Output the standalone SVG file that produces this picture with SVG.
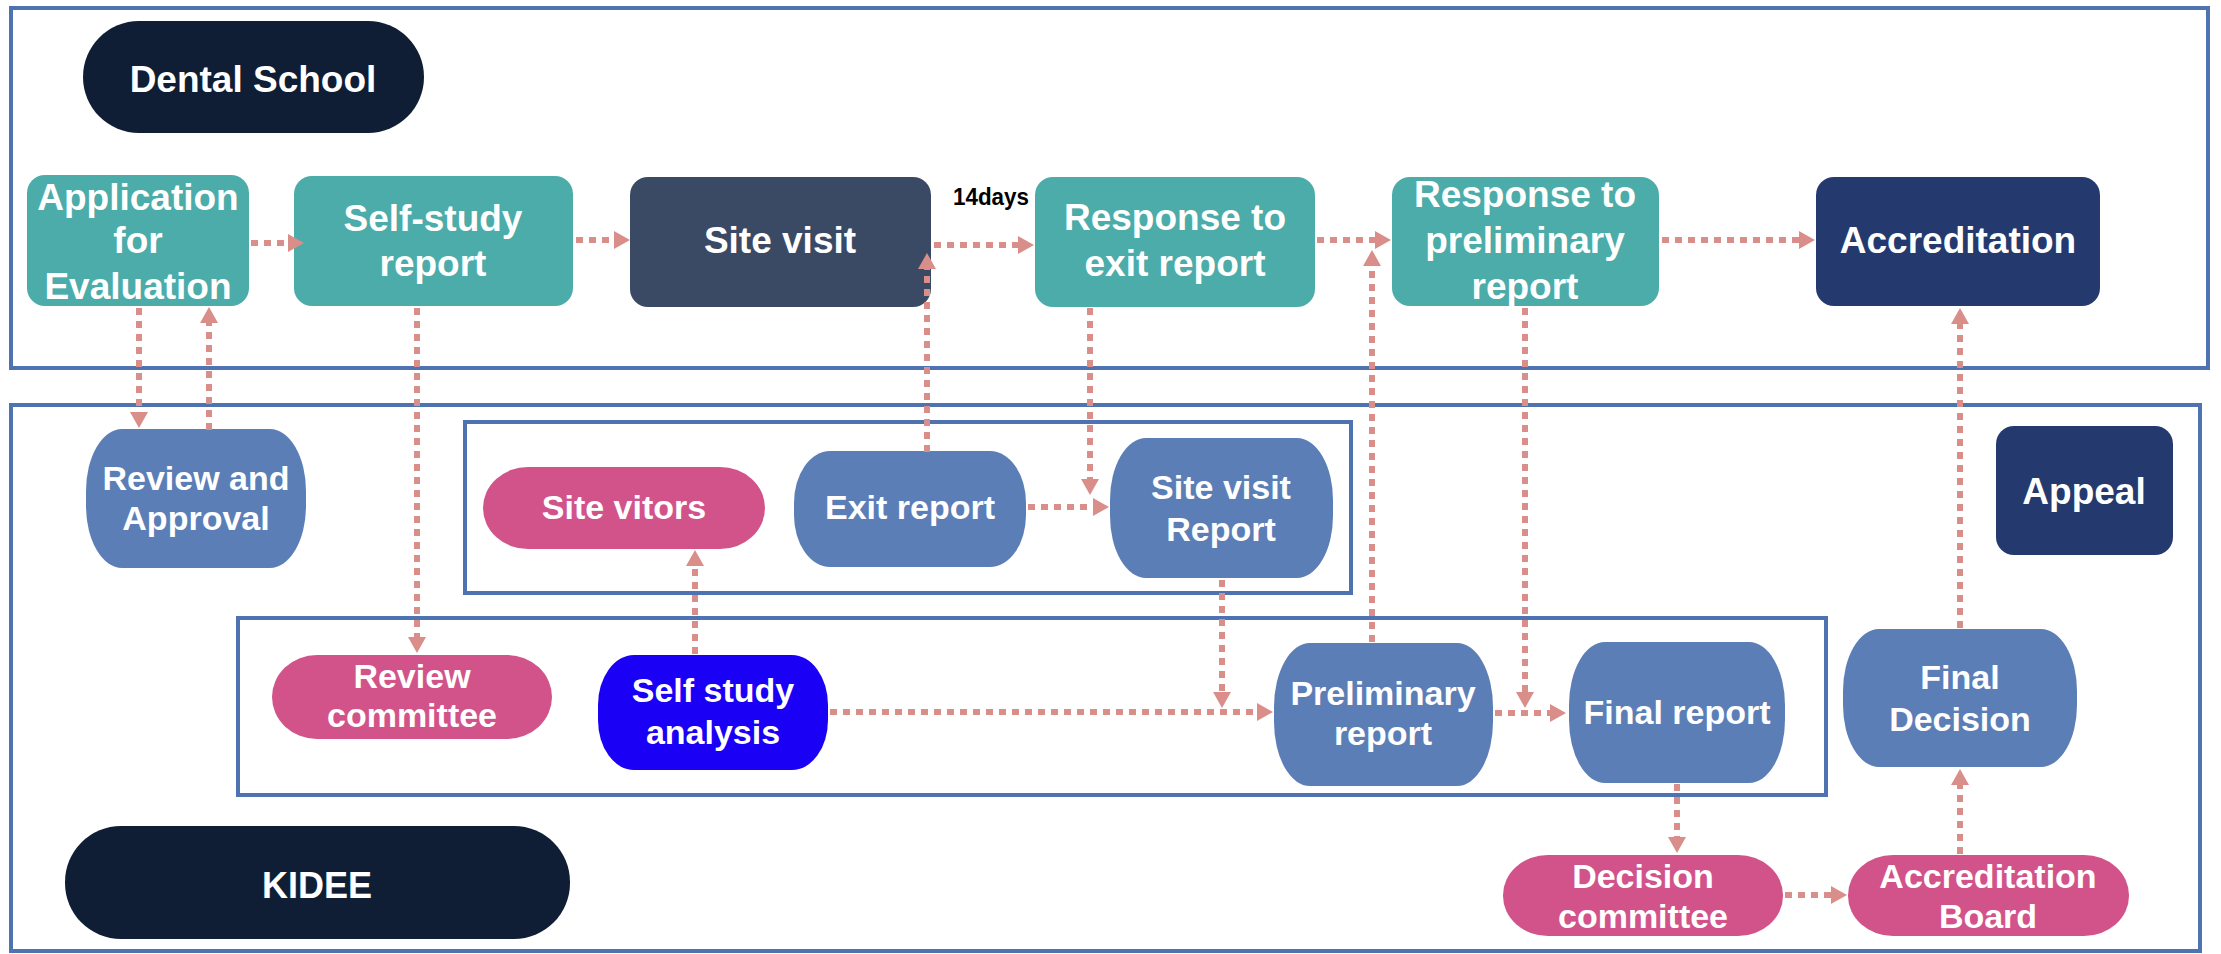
<svg xmlns="http://www.w3.org/2000/svg" width="2221" height="954" viewBox="0 0 2221 954">
<defs>
<style>
.frame{fill:none;stroke:#4f73b0;stroke-width:4}
.t{font-family:"Liberation Sans",Arial,sans-serif;font-weight:bold;fill:#ffffff;text-anchor:middle}
.r1{font-size:37px}
.r2{font-size:34px}
.teal{fill:#4bacaa}
.slate{fill:#3b4a64}
.navy{fill:#243a6f}
.dark{fill:#0f1e34}
.steel{fill:#5b7eb7}
.pink{fill:#d2538a}
.blue{fill:#1a00f5}
.c{fill:none;stroke:#d98e8a;stroke-width:6;stroke-dasharray:7 6;marker-end:url(#ah)}
</style>
<marker id="ah" markerUnits="userSpaceOnUse" markerWidth="18" markerHeight="20" refX="2" refY="9" orient="auto">
<path d="M0,0 L16,9 L0,18 Z" fill="#d98e8a"/>
</marker>
</defs>
<rect width="2221" height="954" fill="#ffffff"/>
<g id="frames">
<rect class="frame" x="11" y="8" width="2197" height="360"/>
<rect class="frame" x="11" y="405" width="2189" height="546"/>
<rect class="frame" x="465" y="422" width="886" height="171"/>
<rect class="frame" x="238" y="618" width="1588" height="177"/>
</g>
<g id="n-dental-school"><rect class="dark" x="83" y="21" width="341" height="112" rx="56" ry="56"/><text class="t r1" x="253" y="92">Dental School</text></g>
<g id="n-application"><rect class="teal" x="27" y="175" width="222" height="131" rx="18"/><text class="t r1"><tspan x="138" y="210">Application</tspan><tspan x="138" y="253">for</tspan><tspan x="138" y="299">Evaluation</tspan></text></g>
<g id="n-self-study-report"><rect class="teal" x="294" y="176" width="279" height="130" rx="18"/><text class="t r1"><tspan x="433" y="231">Self-study</tspan><tspan x="433" y="276">report</tspan></text></g>
<g id="n-site-visit"><rect class="slate" x="630" y="177" width="301" height="130" rx="18"/><text class="t r1" x="780" y="253">Site visit</text></g>
<g id="n-response-exit"><rect class="teal" x="1035" y="177" width="280" height="130" rx="18"/><text class="t r1"><tspan x="1175" y="230">Response to</tspan><tspan x="1175" y="276">exit report</tspan></text></g>
<g id="n-response-prelim"><rect class="teal" x="1392" y="177" width="267" height="129" rx="18"/><text class="t r1"><tspan x="1525" y="207">Response to</tspan><tspan x="1525" y="253">preliminary</tspan><tspan x="1525" y="299">report</tspan></text></g>
<g id="n-accreditation"><rect class="navy" x="1816" y="177" width="284" height="129" rx="18"/><text class="t r1" x="1958" y="253">Accreditation</text></g>
<g id="n-review-approval"><rect class="steel" x="86" y="429" width="220" height="139" rx="36" ry="62"/><text class="t r2"><tspan x="196" y="490">Review and</tspan><tspan x="196" y="530">Approval</tspan></text></g>
<g id="n-site-vitors"><rect class="pink" x="483" y="467" width="282" height="82" rx="45" ry="41"/><text class="t r2" x="624" y="519">Site vitors</text></g>
<g id="n-exit-report"><rect class="steel" x="794" y="451" width="232" height="116" rx="36" ry="52"/><text class="t r2" x="910" y="519">Exit report</text></g>
<g id="n-site-visit-report"><rect class="steel" x="1110" y="438" width="223" height="140" rx="36" ry="62"/><text class="t r2"><tspan x="1221" y="499">Site visit</tspan><tspan x="1221" y="541">Report</tspan></text></g>
<g id="n-appeal"><rect class="navy" x="1996" y="426" width="177" height="129" rx="18"/><text class="t r1" x="2084" y="504">Appeal</text></g>
<g id="n-review-committee"><rect class="pink" x="272" y="655" width="280" height="84" rx="45" ry="42"/><text class="t r2"><tspan x="412" y="688">Review</tspan><tspan x="412" y="727">committee</tspan></text></g>
<g id="n-self-study-analysis"><rect class="blue" x="598" y="655" width="230" height="115" rx="36" ry="50"/><text class="t r2"><tspan x="713" y="702">Self study</tspan><tspan x="713" y="744">analysis</tspan></text></g>
<g id="n-preliminary-report"><rect class="steel" x="1274" y="643" width="219" height="143" rx="36" ry="64"/><text class="t r2"><tspan x="1383" y="705">Preliminary</tspan><tspan x="1383" y="745">report</tspan></text></g>
<g id="n-final-report"><rect class="steel" x="1569" y="642" width="216" height="141" rx="36" ry="63"/><text class="t r2" x="1677" y="724">Final report</text></g>
<g id="n-final-decision"><rect class="steel" x="1843" y="629" width="234" height="138" rx="36" ry="62"/><text class="t r2"><tspan x="1960" y="689">Final</tspan><tspan x="1960" y="731">Decision</tspan></text></g>
<g id="n-kidee"><rect class="dark" x="65" y="826" width="505" height="113" rx="56" ry="56"/><text class="t" style="font-size:36px" x="317" y="898">KIDEE</text></g>
<g id="n-decision-committee"><rect class="pink" x="1503" y="855" width="280" height="81" rx="45" ry="40"/><text class="t r2"><tspan x="1643" y="888">Decision</tspan><tspan x="1643" y="928">committee</tspan></text></g>
<g id="n-accreditation-board"><rect class="pink" x="1848" y="855" width="281" height="81" rx="45" ry="40"/><text class="t r2"><tspan x="1988" y="888">Accreditation</tspan><tspan x="1988" y="928">Board</tspan></text></g>
<g id="connectors">
<path class="c" d="M251,243 H290"/>
<path class="c" d="M576,240 H616"/>
<path class="c" d="M934,245 H1020"/>
<path class="c" d="M1317,240 H1377"/>
<path class="c" d="M1662,240 H1801"/>
<path class="c" d="M139,308 V414"/>
<path class="c" d="M209,430 V321"/>
<path class="c" d="M417,308 V639"/>
<path class="c" d="M927,452 V267"/>
<path class="c" d="M1090,308 V481"/>
<path class="c" d="M1028,507 H1095"/>
<path class="c" d="M695,654 V564"/>
<path class="c" d="M830,712 H1259"/>
<path class="c" d="M1222,580 V694"/>
<path class="c" d="M1372,642 V264"/>
<path class="c" d="M1525,308 V694"/>
<path class="c" d="M1495,713 H1552"/>
<path class="c" d="M1677,784 V839"/>
<path class="c" d="M1960,628 V322"/>
<path class="c" d="M1785,895 H1833"/>
<path class="c" d="M1960,854 V783"/>
<text x="991" y="205" style="font-family:'Liberation Sans',Arial,sans-serif;font-weight:bold;font-size:24px;fill:#000000;text-anchor:middle" textLength="76" lengthAdjust="spacingAndGlyphs">14days</text>
</g>
</svg>
